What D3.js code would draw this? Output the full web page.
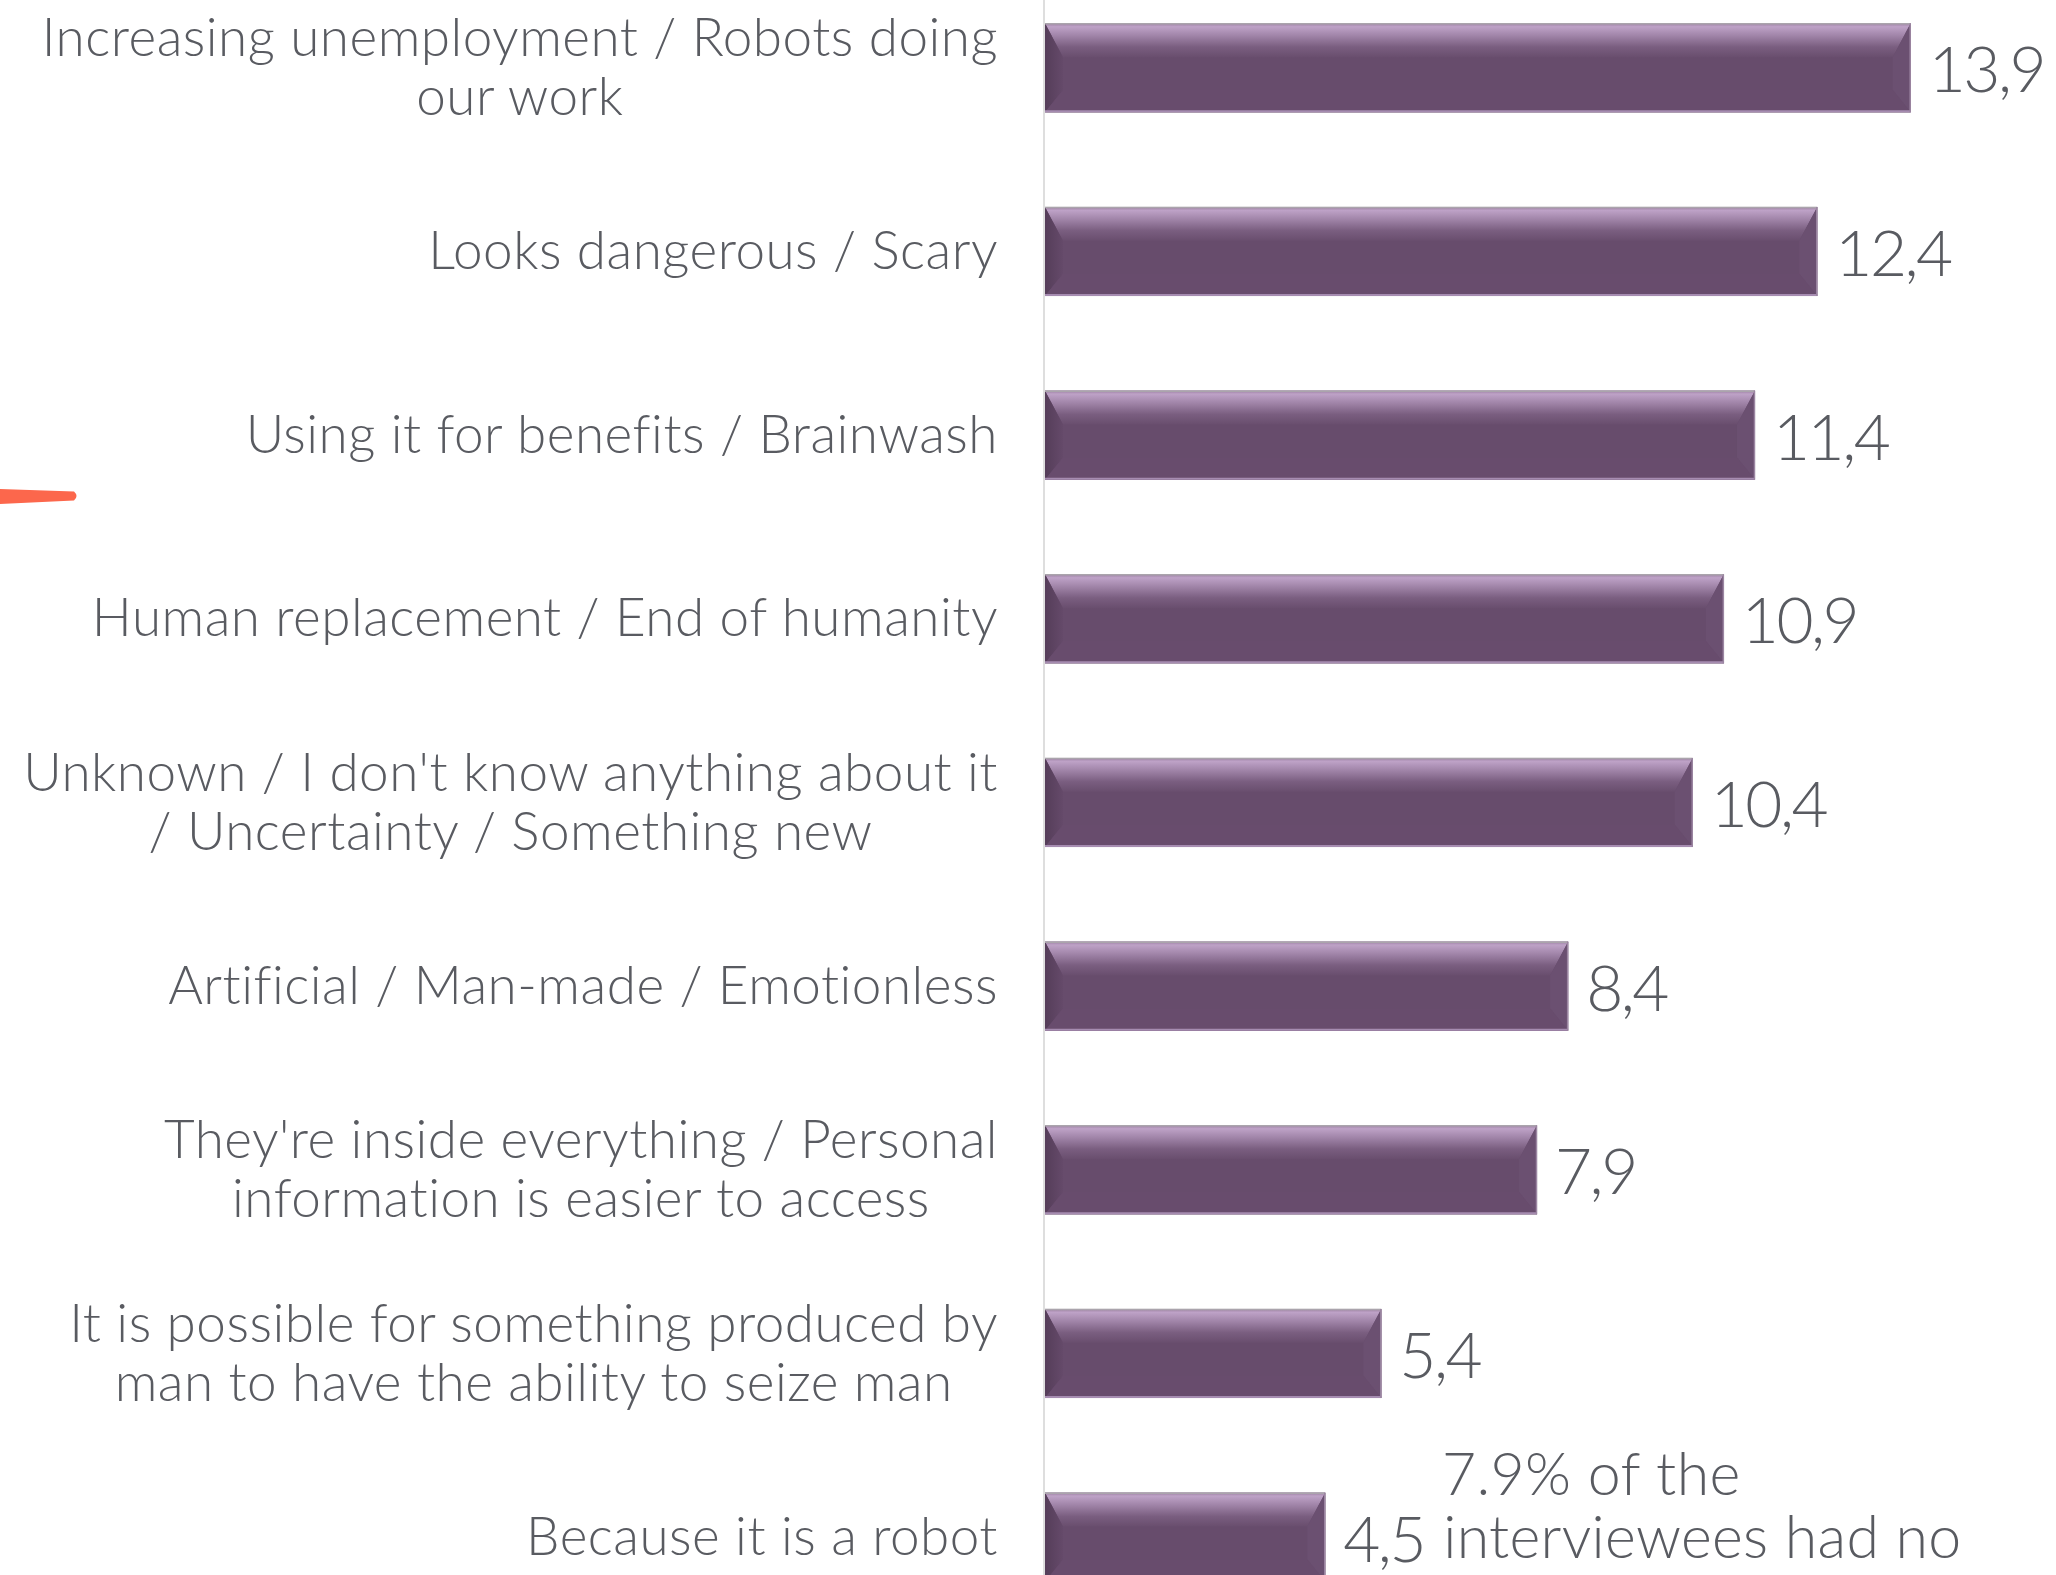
<!DOCTYPE html>
<html>
<head>
<meta charset="utf-8">
<script src="https://cdn.jsdelivr.net/npm/d3@7"></script>
<style>
  html, body { margin: 0; padding: 0; background: #ffffff; }
  svg { display: block; }
  text { font-family: Lato, "Open Sans", sans-serif; font-weight: 300; fill: #595b61; }
</style>
</head>
<body>
<svg id="chart" width="2056" height="1575"></svg>
<script>
// Reasons people feel negative about robots (% of interviewees)
const categories = [
  ["Increasing unemployment / Robots doing", "our work"],
  ["Looks dangerous / Scary"],
  ["Using it for benefits / Brainwash"],
  ["Human replacement / End of humanity"],
  ["Unknown / I don't know anything about it", "/ Uncertainty / Something new"],
  ["Artificial / Man-made / Emotionless"],
  ["They're inside everything / Personal", "information is easier to access"],
  ["It is possible for something produced by", "man to have the ability to seize man"],
  ["Because it is a robot"]
];
const values = [13.9, 12.4, 11.4, 10.9, 10.4, 8.4, 7.9, 5.4, 4.5];
const valueLabels = ["13,9", "12,4", "11,4", "10,9", "10,4", "8,4", "7,9", "5,4", "4,5"];
const noteLines = ["7.9% of the", "interviewees had no"];

const W = 2056, H = 1575;
const svg = d3.select("#chart");

const x = d3.scaleLinear().domain([0, 14]).range([1045, 1045 + 14 * 62.28]);
const y = d3.scaleBand()
  .domain(d3.range(values.length))
  .range([-24, 1629])
  .paddingInner(0.515)
  .paddingOuter(0.2575);

// gradients for the bevelled bars
const defs = svg.append("defs");
const topGrad = defs.append("linearGradient").attr("id", "topShine")
  .attr("x1", 0).attr("y1", 0).attr("x2", 0).attr("y2", 1);
topGrad.append("stop").attr("offset", "0").attr("stop-color", "#9a7ea0");
topGrad.append("stop").attr("offset", "0.1").attr("stop-color", "#bea2c7");
topGrad.append("stop").attr("offset", "0.35").attr("stop-color", "#a286aa");
topGrad.append("stop").attr("offset", "0.7").attr("stop-color", "#7a5e80");
topGrad.append("stop").attr("offset", "1").attr("stop-color", "#694e6e");

const leftGrad = defs.append("linearGradient").attr("id", "leftSide")
  .attr("x1", 0).attr("y1", 0).attr("x2", 1).attr("y2", 0);
leftGrad.append("stop").attr("offset", "0").attr("stop-color", "#553d59");
leftGrad.append("stop").attr("offset", "1").attr("stop-color", "#654a6a");

// vertical axis line
svg.append("line")
  .attr("x1", x(0) - 1).attr("x2", x(0) - 1)
  .attr("y1", 0).attr("y2", H)
  .attr("stroke", "#dedede").attr("stroke-width", 2);

const bars = svg.append("g").selectAll("g.bar")
  .data(values).join("g").attr("class", "bar");

bars.each(function(v, i) {
  const g = d3.select(this);
  const x0 = x(0), x1 = x(v);
  const y0 = y(i), h = y.bandwidth(), y1 = y0 + h;
  const bw = 18, tt = h * 0.38, bb = h * 0.25;
  // base body
  g.append("rect").attr("x", x0).attr("y", y0).attr("width", x1 - x0).attr("height", h)
    .attr("fill", "#674c6c");
  // top highlight bevel
  g.append("path")
    .attr("d", `M${x0},${y0}L${x1},${y0}L${x1 - bw},${y0 + tt}L${x0 + bw},${y0 + tt}Z`)
    .attr("fill", "url(#topShine)");
  // left bevel
  g.append("path")
    .attr("d", `M${x0},${y0}L${x0 + bw},${y0 + tt}L${x0 + bw},${y1 - bb}L${x0},${y1}Z`)
    .attr("fill", "url(#leftSide)");
  // right bevel
  g.append("path")
    .attr("d", `M${x1},${y0}L${x1 - bw},${y0 + tt}L${x1 - bw},${y1 - bb}L${x1},${y1}Z`)
    .attr("fill", "#6b5071");
  // bottom bevel
  g.append("path")
    .attr("d", `M${x0},${y1}L${x0 + bw},${y1 - bb}L${x1 - bw},${y1 - bb}L${x1},${y1}Z`)
    .attr("fill", "#684c6d");
  // thin edges
  g.append("line").attr("x1", x0).attr("x2", x1).attr("y1", y0 + 0.5).attr("y2", y0 + 0.5)
    .attr("stroke", "#aaa4ac").attr("stroke-width", 1.5);
  g.append("line").attr("x1", x0).attr("x2", x1).attr("y1", y1 - 1).attr("y2", y1 - 1)
    .attr("stroke", "#a68cb1").attr("stroke-width", 2);
  g.append("line").attr("x1", x1 - 0.5).attr("x2", x1 - 0.5).attr("y1", y0).attr("y2", y1)
    .attr("stroke", "#9c86a2").attr("stroke-width", 1.5);
});

// category labels: multi-line blocks centred on themselves, right-aligned as a block
const labelRight = 998, lineH = 59;
categories.forEach((lines, i) => {
  const cy = y(i) + y.bandwidth() / 2 - 3;
  const g = svg.append("g");
  const texts = lines.map((t, k) => g.append("text")
    .attr("font-size", 53)
    .attr("letter-spacing", 0.5)
    .attr("text-anchor", "middle")
    .attr("dominant-baseline", "central")
    .attr("y", cy + (k - (lines.length - 1) / 2) * lineH)
    .text(t));
  const maxW = d3.max(texts, t => t.node().getComputedTextLength());
  texts.forEach(t => t.attr("x", labelRight - maxW / 2));
});

// value labels
svg.append("g").selectAll("text")
  .data(values).join("text")
  .attr("x", d => x(d) + 18)
  .attr("y", (d, i) => y(i) + y.bandwidth() / 2)
  .attr("dominant-baseline", "central")
  .attr("font-size", 64)
  .attr("letter-spacing", -2.5)
  .text((d, i) => valueLabels[i]);

// note text box at the bottom
svg.append("g").selectAll("text")
  .data(noteLines).join("text")
  .attr("x", (d, i) => i === 0 ? 1442 : x(values[8]) + 118)
  .attr("y", (d, i) => 1495 + i * 63)
  .attr("font-size", 59)
  .attr("letter-spacing", 0.3)
  .text(d => d);

// orange pointer stroke at the left edge
svg.append("path")
  .attr("d", "M0,489 L74,491.5 Q79,496 74,500.5 L0,504 Z")
  .attr("fill", "#fc674c");
</script>
</body>
</html>
